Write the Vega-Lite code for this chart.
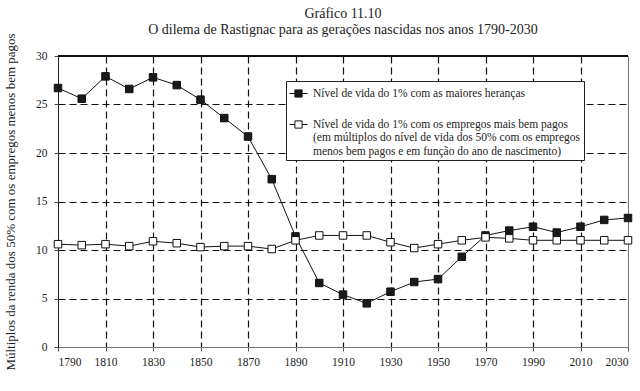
{
  "$schema": "https://vega.github.io/schema/vega-lite/v6.json",
  "width": 570,
  "height": 291,
  "autosize": {"type": "none"},
  "padding": {"left": 58, "top": 56, "right": 12, "bottom": 44},
  "background": "white",
  "config": {
    "font": "Liberation Serif",
    "view": {"stroke": "#777", "strokeWidth": 1}
  },
  "title": {
    "text": "Gráfico 11.10",
    "subtitle": "O dilema de Rastignac para as gerações nascidas nos anos 1790-2030",
    "font": "Liberation Serif",
    "subtitleFont": "Liberation Serif",
    "fontSize": 14,
    "subtitleFontSize": 14,
    "fontWeight": "normal",
    "color": "#222",
    "subtitleColor": "#222",
    "anchor": "middle",
    "offset": -4,
    "subtitlePadding": 2
  },
  "data": {
    "values": [
      {"year": 1790, "value": 26.7, "series": "Maiores heranças"},
      {"year": 1800, "value": 25.6, "series": "Maiores heranças"},
      {"year": 1810, "value": 27.9, "series": "Maiores heranças"},
      {"year": 1820, "value": 26.6, "series": "Maiores heranças"},
      {"year": 1830, "value": 27.8, "series": "Maiores heranças"},
      {"year": 1840, "value": 27.0, "series": "Maiores heranças"},
      {"year": 1850, "value": 25.5, "series": "Maiores heranças"},
      {"year": 1860, "value": 23.6, "series": "Maiores heranças"},
      {"year": 1870, "value": 21.7, "series": "Maiores heranças"},
      {"year": 1880, "value": 17.3, "series": "Maiores heranças"},
      {"year": 1890, "value": 11.4, "series": "Maiores heranças"},
      {"year": 1900, "value": 6.6, "series": "Maiores heranças"},
      {"year": 1910, "value": 5.4, "series": "Maiores heranças"},
      {"year": 1920, "value": 4.5, "series": "Maiores heranças"},
      {"year": 1930, "value": 5.7, "series": "Maiores heranças"},
      {"year": 1940, "value": 6.7, "series": "Maiores heranças"},
      {"year": 1950, "value": 7.0, "series": "Maiores heranças"},
      {"year": 1960, "value": 9.3, "series": "Maiores heranças"},
      {"year": 1970, "value": 11.5, "series": "Maiores heranças"},
      {"year": 1980, "value": 12.0, "series": "Maiores heranças"},
      {"year": 1990, "value": 12.4, "series": "Maiores heranças"},
      {"year": 2000, "value": 11.8, "series": "Maiores heranças"},
      {"year": 2010, "value": 12.4, "series": "Maiores heranças"},
      {"year": 2020, "value": 13.1, "series": "Maiores heranças"},
      {"year": 2030, "value": 13.3, "series": "Maiores heranças"},
      {"year": 1790, "value": 10.6, "series": "Empregos mais bem pagos"},
      {"year": 1800, "value": 10.5, "series": "Empregos mais bem pagos"},
      {"year": 1810, "value": 10.6, "series": "Empregos mais bem pagos"},
      {"year": 1820, "value": 10.4, "series": "Empregos mais bem pagos"},
      {"year": 1830, "value": 10.9, "series": "Empregos mais bem pagos"},
      {"year": 1840, "value": 10.7, "series": "Empregos mais bem pagos"},
      {"year": 1850, "value": 10.3, "series": "Empregos mais bem pagos"},
      {"year": 1860, "value": 10.4, "series": "Empregos mais bem pagos"},
      {"year": 1870, "value": 10.4, "series": "Empregos mais bem pagos"},
      {"year": 1880, "value": 10.1, "series": "Empregos mais bem pagos"},
      {"year": 1890, "value": 11.0, "series": "Empregos mais bem pagos"},
      {"year": 1900, "value": 11.5, "series": "Empregos mais bem pagos"},
      {"year": 1910, "value": 11.5, "series": "Empregos mais bem pagos"},
      {"year": 1920, "value": 11.5, "series": "Empregos mais bem pagos"},
      {"year": 1930, "value": 10.8, "series": "Empregos mais bem pagos"},
      {"year": 1940, "value": 10.2, "series": "Empregos mais bem pagos"},
      {"year": 1950, "value": 10.6, "series": "Empregos mais bem pagos"},
      {"year": 1960, "value": 11.0, "series": "Empregos mais bem pagos"},
      {"year": 1970, "value": 11.3, "series": "Empregos mais bem pagos"},
      {"year": 1980, "value": 11.2, "series": "Empregos mais bem pagos"},
      {"year": 1990, "value": 11.0, "series": "Empregos mais bem pagos"},
      {"year": 2000, "value": 11.0, "series": "Empregos mais bem pagos"},
      {"year": 2010, "value": 11.0, "series": "Empregos mais bem pagos"},
      {"year": 2020, "value": 11.0, "series": "Empregos mais bem pagos"},
      {"year": 2030, "value": 11.0, "series": "Empregos mais bem pagos"}
    ]
  },
  "encoding": {
    "x": {
      "field": "year",
      "type": "quantitative",
      "scale": {"domain": [1790, 2030], "nice": false, "zero": false},
      "axis": {
        "values": [1790, 1810, 1830, 1850, 1870, 1890, 1910, 1930, 1950, 1970, 1990, 2010, 2030],
        "format": "d",
        "title": null,
        "grid": true,
        "gridColor": "#111",
        "gridDash": [7, 4],
        "gridWidth": 1.2,
        "gridOpacity": {"condition": {"test": "datum.value == 1790 || datum.value == 2030", "value": 0}, "value": 1},
        "domainColor": "#777",
        "tickColor": "#555",
        "tickSize": 4,
        "labelFontSize": 11.5,
        "labelColor": "#222",
        "labelPadding": 5
      }
    },
    "y": {
      "field": "value",
      "type": "quantitative",
      "scale": {"domain": [0, 30], "nice": false},
      "axis": {
        "values": [0, 5, 10, 15, 20, 25, 30],
        "title": "Múltiplos da renda dos 50% com os empregos menos bem pagos",
        "titleFontSize": 13,
        "titleFontWeight": "normal",
        "titleColor": "#222",
        "titlePadding": 18,
        "grid": true,
        "gridColor": "#111",
        "gridDash": [7, 4],
        "gridWidth": 1.2,
        "gridOpacity": {"condition": {"test": "datum.value == 0 || datum.value == 30", "value": 0}, "value": 1},
        "domainColor": "#222",
        "tickColor": "#444",
        "tickSize": 4,
        "labelFontSize": 11.5,
        "labelColor": "#222",
        "labelPadding": 7
      }
    }
  },
  "layer": [
    {
      "mark": {"type": "rule", "color": "#111", "strokeWidth": 1.2},
      "encoding": {"y": {"datum": 30}, "x": null}
    },
    {
      "mark": {"type": "line", "color": "#111", "strokeWidth": 1},
      "encoding": {"detail": {"field": "series"}}
    },
    {
      "mark": {"type": "point", "shape": "square", "filled": true, "size": 56, "stroke": "#111", "strokeWidth": 1, "opacity": 1},
      "encoding": {
        "fill": {
          "field": "series",
          "type": "nominal",
          "scale": {"domain": ["Maiores heranças", "Empregos mais bem pagos"], "range": ["#1a1a1a", "white"]},
          "legend": {
            "orient": "none",
            "legendX": 228,
            "legendY": 25,
            "title": null,
            "fillColor": "white",
            "strokeColor": "#222",
            "padding": 3,
            "labelFontSize": 11.5,
            "labelColor": "#222",
            "labelLimit": 500,
            "labelOffset": 5,
            "rowPadding": 15,
            "symbolType": "M-1,0H-0.4M0.4,0H1M-0.4,-0.4H0.4V0.4H-0.4Z",
            "symbolSize": 324,
            "symbolStrokeColor": "#111",
            "symbolStrokeWidth": 1,
            "labelExpr": "datum.value == 'Maiores heranças' ? 'Nível de vida do 1% com as maiores heranças' : ['Nível de vida do 1% com os empregos mais bem pagos', '(em múltiplos do nível de vida dos 50% com os empregos', 'menos bem pagos e em função do ano de nascimento)']",
            "encode": {
              "symbols": {"update": {"stroke": {"value": "#111"}, "strokeWidth": {"value": 1}}},
              "legend": {"update": {"width": {"value": 322}}}
            }
          }
        }
      }
    }
  ]
}
